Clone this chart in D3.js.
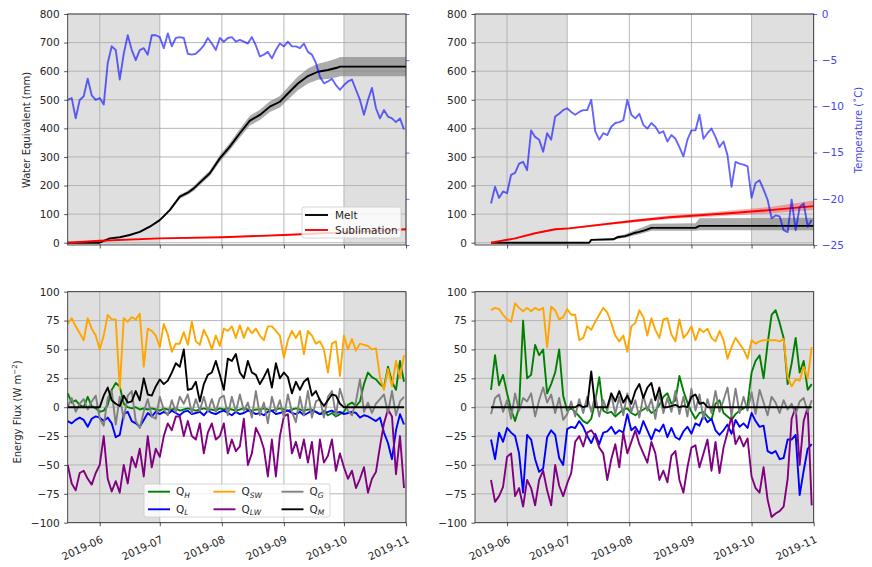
<!DOCTYPE html>
<html>
<head>
<meta charset="utf-8">
<script src="https://cdn.jsdelivr.net/npm/d3@7"></script>
<style>
  body { margin: 0; background: #fff; }
  text { font-family: "DejaVu Sans", sans-serif; }
</style>
</head>
<body>
<script>
var parse = d3.timeParse("%Y-%m-%d");

// daily series are sampled every 2 days, starting at these dates
var leftStart = "2019-05-16", rightStart = "2019-05-24";
var stepDays = 2;

// air temperature (degC)
var tempL = [-9.3,-9.1,-11.3,-9.3,-8.9,-7.0,-8.8,-9.3,-9.1,-9.8,-5.3,-3.5,-3.9,-7.1,-4.3,-2.3,-3.9,-5.0,-3.9,-3.7,
  -4.4,-2.3,-2.3,-2.5,-3.7,-2.1,-3.5,-2.6,-2.5,-2.6,-4.3,-4.4,-4.3,-3.9,-3.4,-2.6,-3.2,-3.9,-2.6,-3.0,
  -2.6,-2.5,-3.0,-2.8,-3.0,-3.2,-2.5,-3.4,-4.6,-4.4,-4.1,-4.8,-3.9,-3.2,-3.5,-3.0,-3.5,-3.5,-3.7,-3.2,
  -4.1,-4.4,-5.3,-6.8,-7.5,-7.3,-7.0,-7.7,-8.2,-7.7,-7.3,-7.1,-8.2,-9.3,-10.9,-9.3,-8.0,-10.2,-11.3,-10.4,
  -11.1,-11.3,-11.7,-11.3,-12.5];
var tempR = [-20.5,-18.7,-19.9,-19.2,-19.4,-17.4,-17.2,-16.2,-16.0,-16.9,-12.6,-13.3,-13.6,-14.9,-12.9,-13.6,-11.1,-10.8,-10.4,-10.2,
  -10.6,-10.9,-10.6,-10.4,-10.4,-9.3,-12.7,-13.6,-12.9,-13.1,-12.2,-11.8,-11.7,-11.5,-9.3,-10.9,-11.3,-10.8,-12.0,-12.4,
  -11.8,-12.2,-12.9,-12.7,-13.8,-13.1,-13.5,-14.4,-15.4,-13.6,-12.6,-12.6,-10.9,-13.5,-12.9,-12.4,-13.3,-14.4,-13.8,-15.3,
  -18.7,-16.0,-16.2,-16.3,-16.5,-19.9,-18.3,-18.0,-19.0,-20.1,-22.1,-21.8,-21.9,-23.4,-23.6,-20.1,-23.4,-20.9,-20.5,-23.0,
  -22.3];

// cumulative melt and sublimation (mm w.e.)
var meltLDates = ["2019-05-16","2019-06-01","2019-06-06","2019-06-11","2019-06-16","2019-06-21","2019-06-26","2019-07-01",
  "2019-07-06","2019-07-11","2019-07-15","2019-07-18","2019-07-21","2019-07-26","2019-07-31","2019-08-05","2019-08-10",
  "2019-08-15","2019-08-20","2019-08-25","2019-08-30","2019-09-03","2019-09-08","2019-09-13","2019-09-18","2019-09-23",
  "2019-09-28","2019-09-29","2019-11-01"];
var meltL = [0,0,15,19,27,38,56,79,114,161,175,190,210,243,295,336,383,427,447,476,493,522,557,583,598,604,613,616,616];
var meltLErr = [0,0,1,1,2,2,3,4,5,7,7,8,9,10,12,13,15,17,18,19,20,22,24,26,28,31,33,34,34];
var sublLDates = ["2019-05-16","2019-06-01","2019-07-01","2019-08-01","2019-09-01","2019-10-01","2019-11-01"];
var sublL = [0,7,15,19,27,36,47];
var sublLErr = [0,1,1,2,2,3,4];

var meltRDates = ["2019-05-24","2019-07-12","2019-07-13","2019-07-24","2019-07-26","2019-07-30","2019-08-03","2019-08-06",
  "2019-08-09","2019-08-12","2019-09-03","2019-09-05","2019-11-01"];
var meltR = [0,0,10,12,19,23,33,38,44,52,52,59,59];
var meltRLo = [0,0,8,9,14,17,25,30,36,42,42,44,44];
var meltRHi = [0,2,13,16,24,30,42,50,58,66,68,86,87];
var sublRDates = ["2019-05-24","2019-06-05","2019-06-15","2019-06-25","2019-07-02","2019-07-19","2019-08-04","2019-08-21",
  "2019-09-07","2019-09-23","2019-10-10","2019-11-01"];
var sublR = [0,15,33,47,50,64,77,89,97,105,114,128];
var sublRLo = [0,14,31,44,47,60,72,83,90,96,103,114];
var sublRHi = [0,16,35,50,53,68,82,95,104,114,125,148];

// energy fluxes (W m-2), left site
var qhL = [12,4,6,2,0,9,1,-1,-4,-3,2,15,21,18,3,0,-1,0,-2,
  -1,-2,-1,-2,-3,-1,-2,-2,-1,-3,-2,-1,-2,-3,-2,-1,-2,-2,-3,-1,-2,-1,-2,-3,-2,-1,-2,-3,-2,-2,-1,-2,-3,-2,-1,-2,-3,-2,-1,-2,-3,-2,
  -2,-4,-6,-3,-7,-5,-8,-6,-4,2,4,1,5,20,30,26,24,20,17,35,22,15,40,22];
var qlL = [-12,-14,-11,-9,-11,-17,-10,-8,-9,-12,-9,-14,-26,-24,-6,-4,-12,-14,-17,-11,-5,-8,-4,-6,
  -4,-6,-3,-5,-7,-4,-3,-6,-5,-4,-7,-3,-5,-6,-4,-3,-5,-7,-4,-6,-5,-3,-4,-6,-5,-7,-4,-3,-6,-5,-4,-3,-5,-6,-4,-7,-5,-3,-4,-6,-5,-4,-3,-5,-4,-6,-5,
  -4,-5,-9,-7,-8,-10,-12,-9,-22,-31,-45,-20,-6,-15];
var qswL = [72,77,70,64,58,77,68,62,50,62,80,76,76,16,77,74,78,76,81,35,
  68,66,62,52,72,63,48,55,55,65,54,74,57,54,67,60,50,62,53,68,
  66,70,60,71,60,69,64,68,62,58,70,70,66,62,43,58,66,60,66,46,
  66,62,55,57,50,30,55,57,27,62,50,59,49,55,54,53,50,51,26,15,
  33,18,40,25,45];
var qlwL = [-50,-66,-72,-57,-55,-62,-67,-57,-50,-25,-62,-73,-64,-74,-50,-66,-43,-52,-36,-60,
  -25,-52,-36,-43,-25,-14,-20,-8,-8,-25,-12,-25,-28,-14,-40,-22,-14,-28,-25,-14,
  -40,-28,-38,-34,-10,-50,-40,-18,-25,-36,-60,-28,-60,-25,-8,-6,-40,-30,-44,-28,
  -48,-30,-62,-28,-48,-42,-28,-55,-40,-52,-62,-55,-70,-62,-52,-74,-62,-56,-34,-14,
  -2,-8,-58,-25,-70];
var qgL = [0,8,-4,3,7,-2,5,10,-10,-16,8,14,-15,9,-10,10,14,-12,-18,-4,
  7,-8,-10,9,-2,-7,6,-4,9,3,11,-5,7,-3,9,-4,7,-4,8,10,
  -7,9,-4,11,-3,4,-9,14,-7,4,-14,9,-4,6,-9,11,-4,-13,9,-7,
  14,-9,5,7,-9,9,14,-7,16,4,-3,-7,5,24,-4,4,-5,3,7,11,
  -5,14,-7,5,9];
var qmL = [0,0,0,0,0,0,0,0,0,
  10,17,6,3,1,10,4,5,14,6,25,11,10,18,24,20,23,30,38,35,50,15,16,22,5,20,28,30,40,28,
  15,42,40,46,30,25,40,30,28,20,26,33,17,38,25,30,26,12,22,15,22,25,10,14,6,1,6,11,10,3,
  0,0,0,0,0,0,0,0,0,0,0,0,0,0,0,0];

// energy fluxes (W m-2), right site
var qhR = [15,45,19,28,12,-2,-12,0,75,25,28,54,45,50,12,20,30,50,10,-3,
  -1,-4,-8,-12,-14,-10,5,26,-3,-5,-4,-8,-5,-2,-1,-5,-7,-4,-2,0,
  -5,-3,2,9,12,3,6,27,14,4,-4,-10,-5,-4,-8,-11,3,6,-5,-8,
  -11,-6,-3,-1,2,30,40,45,25,55,80,84,73,60,20,38,60,30,40,15,
  20];
var qlR = [-28,-45,-22,-30,-18,-22,-25,-40,-74,-24,-28,-45,-56,-53,-26,-20,-24,-44,-50,-19,
  -17,-18,-12,-17,-25,-31,-23,-32,-22,-21,-17,-23,-20,-22,-6,-20,-17,-23,-12,-20,
  -28,-19,-21,-15,-26,-18,-26,-28,-21,-17,-23,-14,-16,-7,-13,-10,-20,-24,-20,-15,
  -23,-11,-17,-14,-18,-5,-12,-17,-16,-38,-40,-38,-45,-44,-28,-28,-24,-76,-55,-36,
  -32];
var qswR = [84,86,85,80,76,74,90,86,83,86,83,86,84,86,52,87,84,76,78,85,
  80,80,58,60,70,67,74,80,86,82,73,62,57,62,48,70,73,84,78,62,
  77,67,60,76,77,63,57,76,60,64,70,58,68,65,68,60,57,66,58,42,
  52,60,55,50,42,58,55,57,58,58,58,58,57,59,26,18,24,23,35,25,
  52];
var qlwR = [-63,-82,-77,-69,-43,-40,-77,-70,-86,-63,-70,-85,-63,-55,-72,-85,-50,-68,-77,-66,
  -57,-30,-25,-34,-22,-20,-25,-35,-40,-63,-45,-32,-52,-22,-40,-30,-20,-32,-40,-48,
  -30,-40,-63,-55,-65,-42,-38,-63,-74,-52,-35,-33,-52,-40,-28,-55,-30,-57,-35,-22,
  -8,-32,-25,-34,-27,-60,-70,-74,-52,-80,-95,-92,-90,-86,-62,-10,0,-50,-12,0,
  -85];
var qgR = [-6,8,11,-4,6,-10,12,-3,8,5,12,-8,6,17,4,11,-5,8,-11,-6,
  5,-8,7,-5,9,-4,10,-8,6,-3,11,-6,9,-7,12,-4,6,-9,10,-3,
  7,-10,12,-5,8,-4,14,-6,9,-8,16,-3,11,-10,7,-5,14,-4,6,17,
  -8,16,-5,9,-3,13,-6,15,4,-7,9,4,-5,6,-2,3,-6,5,8,-4,
  6];
var qmR = [0,0,0,0,0,0,0,0,0,0,0,0,0,0,0,0,0,0,0,0,0,0,
  2,0,1,31,0,0,0,0,12,5,14,4,10,3,14,20,8,17,21,6,17,0,0,1,2,0,1,0,9,11,3,4,0,
  0,0,0,0,0,0,0,0,0,0,0,0,0,0,0,0,0,0,0,0,0,0,0,0,0,0];

var weTicks = [0,100,200,300,400,500,600,700,800];
var tempTicks = [0,-5,-10,-15,-20,-25];
var fluxTicks = [-100,-75,-50,-25,0,25,50,75,100];
var fluxNames = [["H","green"],["L","blue"],["SW","orange"],["LW","purple"],["G","gray"],["M","black"]];

var xDomain = [parse("2019-05-16"), parse("2019-11-01")];
var monthTicks = d3.timeMonth.range(parse("2019-06-01"), parse("2019-11-02"));
var shadeSpans = [[parse("2019-05-16"), parse("2019-07-01")], [parse("2019-10-01"), parse("2019-11-01")]];
var fmtMonth = d3.timeFormat("%Y-%m");
var ink = "#262626", tblue = "#4646e6";
var lw = 1.9;

var svg = d3.select("body").append("svg").attr("width", 872).attr("height", 567);

function gridDates(start, n) {
  return d3.range(n).map(function(i) { return d3.timeDay.offset(parse(start), i * stepDays); });
}

function panel(id, box, yDomain, yTicks) {
  var x = d3.scaleTime().domain(xDomain).range([box.x0, box.x1]);
  var y = d3.scaleLinear().domain(yDomain).range([box.y1, box.y0]);
  var g = svg.append("g");
  g.append("clipPath").attr("id", id).append("rect")
    .attr("x", box.x0).attr("y", box.y0).attr("width", box.x1 - box.x0).attr("height", box.y1 - box.y0);
  g.selectAll(".span").data(shadeSpans).enter().append("rect")
    .attr("x", function(d) { return x(d[0]); })
    .attr("width", function(d) { return x(d[1]) - x(d[0]); })
    .attr("y", box.y0).attr("height", box.y1 - box.y0)
    .attr("fill", "#dfdfdf");
  g.selectAll(".vg").data(monthTicks).enter().append("line")
    .attr("x1", function(d) { return x(d); }).attr("x2", function(d) { return x(d); })
    .attr("y1", box.y0).attr("y2", box.y1)
    .attr("stroke", "#b0b0b0").attr("stroke-width", 0.9);
  g.selectAll(".hg").data(yTicks).enter().append("line")
    .attr("x1", box.x0).attr("x2", box.x1)
    .attr("y1", function(d) { return y(d); }).attr("y2", function(d) { return y(d); })
    .attr("stroke", "#b0b0b0").attr("stroke-width", 0.9);
  var plot = g.append("g").attr("clip-path", "url(#" + id + ")");
  return { x: x, y: y, box: box, plot: plot };
}

function styleAxis(ax, color) {
  ax.select(".domain").remove();
  ax.attr("font-family", "DejaVu Sans").attr("font-size", 10.5);
  ax.selectAll("line").attr("stroke", color).attr("stroke-width", 0.8);
  ax.selectAll("text").attr("fill", color);
}

function axes(p, yTicks, showDates) {
  var b = p.box;
  var ay = svg.append("g").attr("transform", "translate(" + b.x0 + ",0)")
    .call(d3.axisLeft(p.y).tickValues(yTicks).tickSize(3.5).tickPadding(4.5).tickSizeOuter(0));
  styleAxis(ay, ink);
  var ax = svg.append("g").attr("transform", "translate(0," + b.y1 + ")")
    .call(d3.axisBottom(p.x).tickValues(monthTicks).tickSize(3.5).tickSizeOuter(0)
      .tickFormat(showDates ? fmtMonth : ""));
  styleAxis(ax, ink);
  if (showDates) {
    ax.selectAll("text").attr("x", null).attr("y", null).attr("dy", null)
      .attr("text-anchor", "end")
      .attr("transform", "translate(3.5,19.3) rotate(-25)");
  }
  svg.append("rect").attr("x", b.x0).attr("y", b.y0)
    .attr("width", b.x1 - b.x0).attr("height", b.y1 - b.y0)
    .attr("fill", "none").attr("stroke", ink).attr("stroke-width", 0.8);
}

function drawLine(p, dates, vals, color, width, opacity) {
  p.plot.append("path")
    .datum(vals)
    .attr("fill", "none").attr("stroke", color)
    .attr("stroke-width", width).attr("stroke-opacity", opacity || 1)
    .attr("stroke-linejoin", "round")
    .attr("d", d3.line().x(function(d, i) { return p.x(dates[i]); }).y(function(d) { return p.y(d); }));
}

function drawBand(p, dates, lo, hi, color, opacity) {
  p.plot.append("path")
    .datum(lo)
    .attr("fill", color).attr("fill-opacity", opacity)
    .attr("d", d3.area().x(function(d, i) { return p.x(dates[i]); })
      .y0(function(d) { return p.y(d); })
      .y1(function(d, i) { return p.y(hi[i]); }));
}

function tempAxis(p, vals, start, showLabels) {
  var b = p.box;
  var yT = d3.scaleLinear().domain([-25, 0]).range([b.y1, b.y0]);
  var dates = gridDates(start, vals.length);
  p.plot.append("path").datum(vals)
    .attr("fill", "none").attr("stroke", "blue").attr("stroke-opacity", 0.6)
    .attr("stroke-width", lw).attr("stroke-linejoin", "round")
    .attr("d", d3.line().x(function(d, i) { return p.x(dates[i]); }).y(function(d) { return yT(d); }));
  var ar = svg.append("g").attr("transform", "translate(" + b.x1 + ",0)")
    .call(d3.axisRight(yT).tickValues(tempTicks).tickSize(3.5).tickPadding(4.5).tickSizeOuter(0)
      .tickFormat(showLabels ? d3.format("d") : ""));
  styleAxis(ar, tblue);
}

function massPanel(p, meltDates, melt, meltLo, meltHi, sublDates, subl, sublLo, sublHi) {
  var md = meltDates.map(parse), sd = sublDates.map(parse);
  drawBand(p, md, meltLo, meltHi, "#808080", 0.65);
  drawBand(p, sd, sublLo, sublHi, "red", 0.3);
  drawLine(p, md, melt, "black", lw);
  drawLine(p, sd, subl, "red", lw);
}

function fluxPanel(p, start, series) {
  series.forEach(function(s, k) {
    drawLine(p, gridDates(start, s.length), s, fluxNames[k][1], lw);
  });
}

// ---- top left ----
var boxTL = { x0: 67.7, x1: 406, y0: 14, y1: 245 };
var tl = panel("cTL", boxTL, [-8, 800], weTicks);
massPanel(tl, meltLDates, meltL,
  meltL.map(function(v, i) { return v - meltLErr[i]; }), meltL.map(function(v, i) { return v + meltLErr[i]; }),
  sublLDates, sublL,
  sublL.map(function(v, i) { return v - sublLErr[i]; }), sublL.map(function(v, i) { return v + sublLErr[i]; }));

var lg = svg.append("g");
lg.append("rect").attr("x", 302).attr("y", 207).attr("width", 99).attr("height", 31).attr("rx", 2)
  .attr("fill", "white").attr("fill-opacity", 0.8).attr("stroke", "#cccccc").attr("stroke-width", 0.8);
[["Melt", "black"], ["Sublimation", "red"]].forEach(function(e, i) {
  var yy = 215 + i * 15;
  lg.append("line").attr("x1", 305).attr("x2", 328).attr("y1", yy).attr("y2", yy)
    .attr("stroke", e[1]).attr("stroke-width", lw);
  lg.append("text").attr("x", 335).attr("y", yy).attr("dy", "0.35em")
    .attr("font-size", 10.5).attr("fill", ink).text(e[0]);
});
tempAxis(tl, tempL, leftStart, false);
axes(tl, weTicks, false);

// ---- top right ----
var boxTR = { x0: 475, x1: 813.7, y0: 14, y1: 245 };
var tr = panel("cTR", boxTR, [-8, 800], weTicks);
massPanel(tr, meltRDates, meltR, meltRLo, meltRHi, sublRDates, sublR, sublRLo, sublRHi);
tempAxis(tr, tempR, rightStart, true);
axes(tr, weTicks, false);

// ---- bottom left ----
var boxBL = { x0: 67.7, x1: 406, y0: 291.7, y1: 522.7 };
var bl = panel("cBL", boxBL, [-100, 100], fluxTicks);
fluxPanel(bl, leftStart, [qhL, qlL, qswL, qlwL, qgL, qmL]);
axes(bl, fluxTicks, true);

var lg2 = svg.append("g");
lg2.append("rect").attr("x", 144).attr("y", 484).attr("width", 186).attr("height", 33).attr("rx", 2)
  .attr("fill", "white").attr("fill-opacity", 0.8).attr("stroke", "#cccccc").attr("stroke-width", 0.8);
var colX = [148, 213.5, 281.5];
fluxNames.forEach(function(e, i) {
  var cx = colX[Math.floor(i / 2)], yy = 491.7 + (i % 2) * 17.6;
  lg2.append("line").attr("x1", cx).attr("x2", cx + 22).attr("y1", yy).attr("y2", yy)
    .attr("stroke", e[1]).attr("stroke-width", lw);
  var t = lg2.append("text").attr("x", cx + 28).attr("y", yy).attr("dy", "0.35em")
    .attr("font-size", 10.5).attr("fill", ink);
  t.append("tspan").text("Q");
  t.append("tspan").attr("dy", 2.5).attr("font-size", 7.5).attr("font-style", "italic").text(e[0]);
});

// ---- bottom right ----
var boxBR = { x0: 475, x1: 813.7, y0: 291.7, y1: 522.7 };
var br = panel("cBR", boxBR, [-100, 100], fluxTicks);
fluxPanel(br, rightStart, [qhR, qlR, qswR, qlwR, qgR, qmR]);
axes(br, fluxTicks, true);

// ---- axis titles ----
svg.append("text").attr("transform", "translate(26.5,130) rotate(-90)")
  .attr("text-anchor", "middle").attr("dy", "0.35em").attr("font-size", 10).attr("fill", ink)
  .text("Water Equivalent (mm)");
var ef = svg.append("text").attr("transform", "translate(17,412) rotate(-90)")
  .attr("text-anchor", "middle").attr("dy", "0.35em").attr("font-size", 10).attr("fill", ink);
ef.append("tspan").text("Energy Flux (W m");
ef.append("tspan").attr("dy", -4).attr("font-size", 7).text("\u22122");
ef.append("tspan").attr("dy", 4).text(")");
svg.append("text").attr("transform", "translate(858,130) rotate(-90)")
  .attr("text-anchor", "middle").attr("dy", "0.35em").attr("font-size", 10).attr("fill", tblue)
  .text("Temperature (\u02daC)");
</script>
</body>
</html>
